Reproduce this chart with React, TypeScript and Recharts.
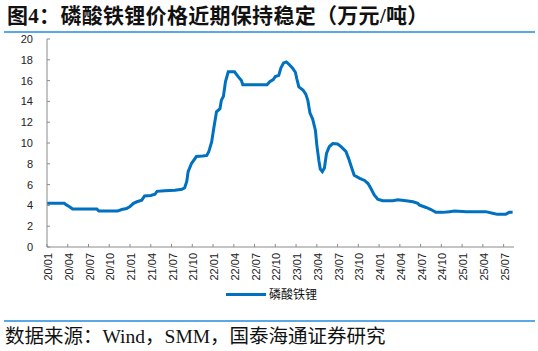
import React from "react";
import { LineChart, Line, XAxis, YAxis } from "recharts";

// time in months since 2020-01 (data time stamps)
const months: number[] = [
  0, 1, 2.5, 2.8, 3.2, 3.7, 5, 7.2, 7.5, 9, 10.2, 10.8, 11.5, 12.0, 12.5, 13.0, 13.7, 14.1, 15.0, 15.6,
  15.9, 17, 18.5, 19.5, 19.9, 20.2, 20.4, 20.9, 21.6, 22.5, 23.1, 23.4, 23.8, 24.1, 24.5, 25.0, 25.2, 25.5,
  25.8, 26.2, 27.1, 27.6, 28.1, 28.3, 30, 31.8, 32.2, 32.7, 33.0, 33.5, 33.8, 34.2, 34.6, 35.0, 35.5, 35.9,
  36.1, 36.4, 37.0, 37.4, 37.7, 38.0, 38.4, 38.8, 39.0, 39.3, 39.5, 39.8, 40.1, 40.4, 40.8, 41.3, 42.0, 42.5,
  43.2, 43.6, 44.0, 44.4, 45.2, 45.9, 46.4, 46.8, 47.3, 47.8, 48.5, 50, 50.7, 51.9, 52.9, 53.6, 53.8, 54.8,
  55.5, 56.2, 57.2, 58.2, 58.9, 60.6, 63.4, 64.4, 65.1, 66.3, 66.8, 67.3,
];

const lfpPrice: number[] = [
  4.2, 4.2, 4.2, 4.05, 3.9, 3.65, 3.65, 3.65, 3.45, 3.45, 3.45, 3.6, 3.7, 3.9, 4.2, 4.35, 4.5, 4.9, 4.95, 5.07,
  5.35, 5.4, 5.45, 5.55, 5.7, 6.3, 7.25, 8.05, 8.7, 8.75, 8.8, 9.2, 10.1, 11.4, 13.0, 13.3, 14.1, 14.5,
  15.9, 16.85, 16.85, 16.4, 16.0, 15.6, 15.6, 15.6, 15.9, 16.1, 16.4, 16.5, 17.2, 17.7, 17.8, 17.55, 17.2, 16.8,
  16.2, 15.4, 15.1, 14.7, 14.1, 12.9, 12.3, 11.2, 9.8, 8.3, 7.5, 7.25, 7.6, 9.0, 9.65, 9.95, 9.9, 9.65,
  9.2, 8.5, 7.7, 6.9, 6.6, 6.4, 6.1, 5.65, 5.0, 4.6, 4.45, 4.45, 4.55, 4.45, 4.35, 4.2, 4.04, 3.8,
  3.6, 3.33, 3.33, 3.4, 3.45, 3.4, 3.4, 3.25, 3.14, 3.14, 3.33, 3.33,
];

const xTicks: number[] = [0, 3, 6, 9, 12, 15, 18, 21, 24, 27, 30, 33, 36, 39, 42, 45, 48, 51, 54, 57, 60, 63, 66];
const yTicks: number[] = [0, 2, 4, 6, 8, 10, 12, 14, 16, 18, 20];

const seriesName = "磷酸铁锂";
const title = "图4：磷酸铁锂价格近期保持稳定（万元/吨）";
const source = "数据来源：Wind，SMM，国泰海通证券研究";

const data = months.map((m, i) => ({ t: m, v: lfpPrice[i] }));

const fmtMonth = (m: number) => {
  const y = 20 + Math.floor(m / 12);
  const mo = (m % 12) + 1;
  return `${y}/${mo < 10 ? "0" + mo : mo}`;
};

const AXIS = "#8a8a8a";
const BLUE = "#0070C0";
const TICK_FONT = '"Liberation Sans", Arial, sans-serif';

const YTick = (props: any) => {
  const { x, y, payload } = props;
  return (
    <g>
      <line x1={x + 14} x2={x + 17} y1={y} y2={y} stroke={AXIS} strokeWidth={1} />
      <text x={x} y={y} textAnchor="end" dominantBaseline="central" fontSize={11} fill="#222" fontFamily={TICK_FONT}>
        {payload.value}
      </text>
    </g>
  );
};

const XTick = (props: any) => {
  const { x, y, payload } = props;
  return (
    <g>
      <line x1={x} x2={x} y1={y - 6} y2={y - 9} stroke={AXIS} strokeWidth={1} />
      <text
        transform={`translate(${x + 1},${y}) rotate(-90)`}
        textAnchor="end"
        dominantBaseline="central"
        fontSize={11}
        fill="#222"
        fontFamily={TICK_FONT}
      >
        {fmtMonth(payload.value)}
      </text>
    </g>
  );
};

export default function App() {
  return (
    <div style={{ position: "relative", width: 538, height: 351, background: "#fff", overflow: "hidden" }}>
      <style>{`body{margin:0}`}</style>
      <div
        style={{
          position: "absolute",
          left: 7,
          top: 3,
          fontSize: 21,
          letterSpacing: 0.3,
          fontWeight: "bold",
          fontFamily: '"Liberation Serif", "Noto Sans CJK SC", serif',
          color: "#111",
          whiteSpace: "nowrap",
          lineHeight: "27px",
        }}
      >
        {title}
      </div>
      <div style={{ position: "absolute", left: 4, right: 3, top: 31, height: 2, background: "#5aa8e6" }} />
      <div style={{ position: "absolute", left: 0, top: 0 }}>
        <LineChart width={538} height={300} data={data} margin={{ top: 39, right: 24, bottom: 13, left: 7 }}>
          <XAxis
            dataKey="t"
            type="number"
            domain={[0, 67.5]}
            ticks={xTicks}
            interval={0}
            height={40}
            tickSize={0}
            tickMargin={6}
            tickLine={false}
            axisLine={{ stroke: AXIS }}
            tick={<XTick />}
            allowDecimals
          />
          <YAxis
            type="number"
            domain={[0, 20]}
            ticks={yTicks}
            interval={0}
            width={40}
            tickSize={0}
            tickMargin={14}
            tickLine={false}
            axisLine={{ stroke: AXIS }}
            tick={<YTick />}
          />
          <Line
            type="linear"
            dataKey="v"
            name={seriesName}
            stroke={BLUE}
            strokeWidth={3}
            dot={false}
            isAnimationActive={false}
          />
        </LineChart>
      </div>
      <div style={{ position: "absolute", left: 226, top: 287, display: "flex", alignItems: "center", height: 14 }}>
        <div style={{ width: 40, height: 3, background: BLUE, marginRight: 3 }} />
        <span style={{ fontSize: 12, fontFamily: '"Noto Sans CJK SC", sans-serif', color: "#111", lineHeight: "14px" }}>
          {seriesName}
        </span>
      </div>
      <div style={{ position: "absolute", left: 4, right: 3, top: 320, height: 2, background: "#5aa8e6" }} />
      <div
        style={{
          position: "absolute",
          left: 5,
          top: 325,
          fontSize: 19.5,
          fontFamily: '"Liberation Serif", "Noto Sans CJK SC", serif',
          color: "#111",
          whiteSpace: "nowrap",
          lineHeight: "24px",
        }}
      >
        {source}
      </div>
    </div>
  );
}
